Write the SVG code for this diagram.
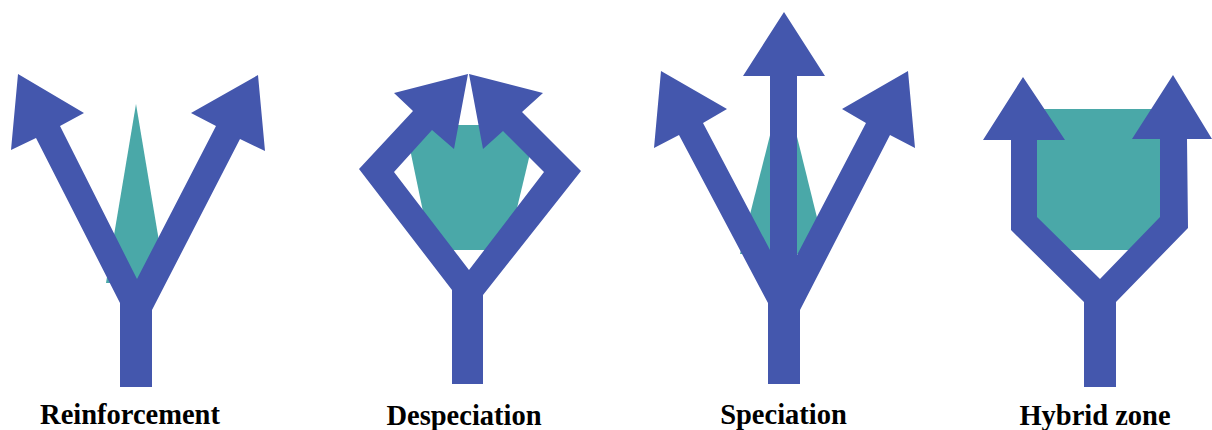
<svg xmlns="http://www.w3.org/2000/svg" width="1212" height="430" viewBox="0 0 1212 430">
  <style>
    .arrow { fill: #4457AD; }
    .zone { fill: #4AA8A8; }
    .label { font-family: "Liberation Serif", "Times New Roman", serif; font-weight: bold; font-size: 28.5px; fill: #000; text-anchor: middle; }
  </style>
  <rect width="1212" height="430" fill="#FFFFFF"/>
  <g id="reinforcement">
    <polygon class="zone" points="136,104 106,283 166,283"/>
    <polygon class="arrow" points="120,387 120,303 36,138 11,150 18,74 84,113 60,126 137,279 216,126 191,113 258,75 265,151 240,139 152,310 152,387"/>
    <text class="label" x="130" y="424">Reinforcement</text>
  </g>
  <g id="despeciation">
    <polygon class="zone" points="405,125 532,125 534.5,135 507,250 431,250"/>
    <polygon class="arrow" points="452,384 452,290 359,169 413,111 394,93 468,74 454,149 432,130 394,172 469,270 544,172 503,131 483,149 469,74 543,93 522,112 581,171 483,295 483,384"/>
    <text class="label" x="464" y="425">Despeciation</text>
  </g>
  <g id="speciation">
    <polygon class="zone" points="783.5,82 740,254 826,254"/>
    <polygon class="arrow" points="768,384 768,303 679,135 654,148 661,71 727,109 703,123 770,250 770,76 743,76 784,12 825,76 797,76 797,255 866,123 842,109 908,71 915,148 890,135 800,310 800,384"/>
    <text class="label" x="783.5" y="424">Speciation</text>
  </g>
  <g id="hybrid-zone">
    <rect class="zone" x="1036" y="109" width="126" height="141"/>
    <polygon class="arrow" points="1084,387 1084,302 1011,230 1011,140 983,140 1023,77 1065,140 1037,140 1037,217 1100,279 1160,217 1160,139 1132,139 1173,75 1212,139 1187,139 1188,228 1116,302 1116,387"/>
    <text class="label" x="1095" y="425">Hybrid zone</text>
  </g>
</svg>
